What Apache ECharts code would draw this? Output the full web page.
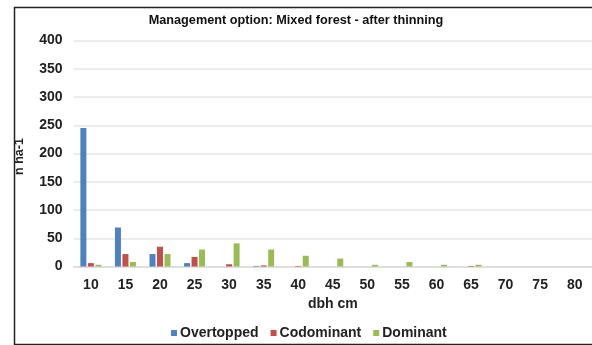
<!DOCTYPE html>
<html><head><meta charset="utf-8">
<script src="https://cdn.jsdelivr.net/npm/echarts@6/dist/echarts.min.js"></script>
<style>html,body{margin:0;padding:0;background:#fff}#c{width:592px;height:345px}</style>
</head><body><div id="c"></div>
<script>
const categories = ['10','15','20','25','30','35','40','45','50','55','60','65','70','75','80'];
const overtopped = [245, 69, 22, 6, 0, 1, 0, 0, 0, 0, 0, 0, 0, 0, 0];
const codominant = [6, 22, 35, 17, 4, 2, 1, 0, 0, 0, 0, 1, 0, 0, 0];
const dominant   = [3, 8, 22, 30, 41, 30, 19, 14, 3, 8, 3, 3, 0, 0, 0];
const yTicks = [0, 50, 100, 150, 200, 250, 300, 350, 400];

const font = 'Liberation Sans, Arial, sans-serif';
const chart = echarts.init(document.getElementById('c'), null, {renderer: 'canvas'});
const mk = (name, data, color) => ({
  name, type: 'bar', data, barWidth: 6, barGap: '25%',
  itemStyle: {color}
});
chart.setOption({
  animation: false,
  graphic: [{type: 'rect', left: 12, top: 5, shape: {width: 600, height: 337},
    style: {fill: 'none', stroke: '#222', lineWidth: 1.5}, z: 100}],
  title: {text: 'Management option: Mixed forest - after thinning', left: 'center', top: 9,
    textStyle: {fontFamily: font, fontSize: 12.7, fontWeight: 'bold', color: '#111'}},
  legend: {bottom: 0, left: 166, itemWidth: 6, itemHeight: 6, itemGap: 12,
    icon: 'rect',
    textStyle: {fontFamily: font, fontSize: 14, fontWeight: 'bold', color: '#222', padding: [0,0,0,-2]}},
  grid: {left: 73.6, right: -3.6, top: 40.5, bottom: 78.5, containLabel: false},
  xAxis: {type: 'category', data: categories, name: 'dbh cm', nameLocation: 'middle', nameGap: 27,
    nameTextStyle: {fontFamily: font, fontSize: 14, fontWeight: 'bold', color: '#222'},
    axisTick: {show: false}, axisLine: {lineStyle: {color: '#d9d9d9', width: 1.5}},
    axisLabel: {fontFamily: font, fontSize: 14, fontWeight: 'bold', color: '#222', margin: 12}},
  yAxis: {type: 'value', min: yTicks[0], max: yTicks[yTicks.length-1], interval: 50,
    name: 'n ha-1', nameLocation: 'middle', nameGap: 48, nameRotate: 90,
    nameTextStyle: {fontFamily: font, fontSize: 12.5, fontWeight: 'bold', color: '#222', padding: [0,0,0,-6]},
    axisLine: {show: false}, axisTick: {show: false},
    splitLine: {lineStyle: {color: '#e6e6e6', width: 1.5}},
    axisLabel: {fontFamily: font, fontSize: 14, fontWeight: 'bold', color: '#222', margin: 11}},
  series: [mk('Overtopped', overtopped, '#4F81BD'), mk('Codominant', codominant, '#C0504D'), mk('Dominant', dominant, '#9BBB59')]
});
</script></body></html>
